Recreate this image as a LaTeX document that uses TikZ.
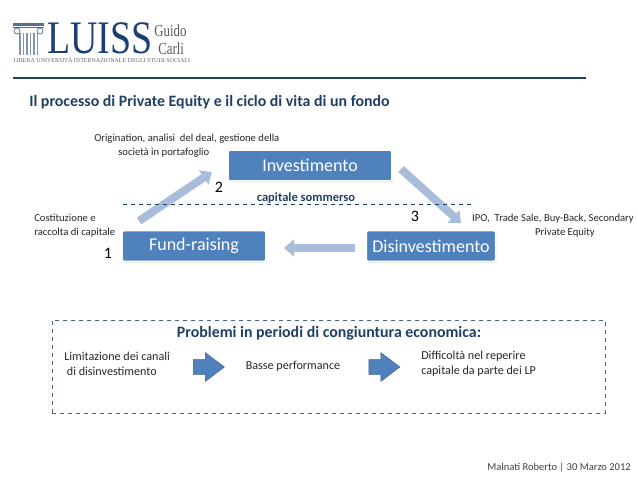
\documentclass[tikz,border=0pt]{standalone}
\usepackage{fontspec}
\setmainfont{Carlito}
\newfontfamily\logofont{Liberation Serif}
\usetikzlibrary{arrows.meta, shadows, shapes.arrows}
\definecolor{boxblue}{HTML}{4F81BD}
\definecolor{lightarrow}{HTML}{A9BCD9}
\definecolor{titleblue}{HTML}{1F3F66}
\definecolor{logoblue}{HTML}{1B3F73}
\tikzset{
  phase/.style={draw=white, line width=1.2pt, fill=boxblue, rounded corners=1.5pt, text=white,
    inner sep=0pt, font=\fontsize{13.5}{13.5}\selectfont, drop shadow={shadow xshift=0.6pt, shadow yshift=-0.9pt, fill=black!35}},
  flow/.style={line width=6pt, lightarrow, -{Triangle[length=7.5pt, width=12.5pt]}},
  note/.style={align=center, font=\fontsize{8}{10.3}\selectfont, text=black!85},
  issue/.style={align=left, font=\fontsize{9.1}{11.25}\selectfont, text=black!85},
  num/.style={font=\fontsize{12}{12}\selectfont},
  head/.style={font=\bfseries\fontsize{11.9}{13}\selectfont, text=titleblue},
  block/.style={single arrow, draw=boxblue!75!black, fill=boxblue, minimum height=23.25pt, inner xsep=0pt, inner ysep=5.25pt,
    single arrow head extend=5.25pt, single arrow tip angle=74, line width=0.4pt}
}
\begin{document}
\begin{tikzpicture}[x=0.75pt, y=-0.75pt]
    \useasboundingbox (0,0) rectangle (638,479);
    % logo
    \fill[logoblue!75] (13,23) rectangle (44,25.5);
    \fill[logoblue!75] (13,27) rectangle (44,28);
    \foreach \x in {19,22.5,26,29.5,33,36.5}
        \fill[logoblue!55] (\x,33) rectangle +(1.6,22);
    \draw[logoblue!70, line width=0.6pt] (17,31) circle (3) (40,31) circle (3);
    \node[anchor=west, inner sep=0pt, text=logoblue] (luiss) at (47,38.5)
        {\logofont\fontsize{36}{36}\selectfont\scalebox{0.79}[0.97]{LUISS}};
    \node[anchor=west, inner sep=0pt, text=black!65] (guido) at (154,31)
        {\logofont\fontsize{11.5}{11.5}\selectfont\scalebox{0.84}[1.1]{Guido}};
    \node[anchor=west, inner sep=0pt, text=black!65] (carli) at (158,49)
        {\logofont\fontsize{11.5}{11.5}\selectfont\scalebox{0.84}[1.1]{Carli}};
    \node[anchor=west, inner sep=0pt, text=black!60] (motto) at (13,60)
        {\logofont\fontsize{4.5}{4.5}\selectfont LIBERA UNIVERSITÀ INTERNAZIONALE DEGLI STUDI SOCIALI};
    \draw[line width=1.4pt, titleblue] (13,78) -- (586,78);
    %
    \node[head, anchor=west, inner sep=0pt] (title) at (29,102) {Il processo di Private Equity e il ciclo di vita di un fondo};
    %
    \node[phase, minimum width=123pt, minimum height=23pt] (inv) at (310,165.5) {Investimento};
    \node[phase, minimum width=108pt, minimum height=23pt] (fund) at (194,246) {Fund-raising};
    \node[phase, minimum width=97pt, minimum height=23pt] (dis) at (431,246) {Disinvestimento};
    %
    \coordinate (fundout) at (139,221);
    \coordinate (invin) at (212,172);
    \coordinate (invout) at (401,169);
    \coordinate (disin) at (461,223);
    \coordinate (disout) at (355,248);
    \coordinate (fundin) at (284,248);
    \path (fundout) edge[flow] (invin);
    \path (invout) edge[flow] (disin);
    \path (disout) edge[flow] (fundin);
    %
    \coordinate (sunkl) at (123,204);
    \coordinate (sunkr) at (475,204);
    \draw[dashed, titleblue, line width=0.5pt] (sunkl) -- (sunkr);
    \node[font=\bfseries\fontsize{9.4}{10}\selectfont, text=titleblue, inner sep=0pt] (sunk) at (306,198) {capitale sommerso};
    %
    \node[note, align=left, anchor=west, inner sep=0pt] (orig) at (94,145.5) {Origination, analisi~ del deal, gestione della\\\hspace*{18pt}società in portafoglio};
    \node[note, align=left, anchor=west, inner sep=0pt] (cost) at (34,225.5) {Costituzione e\\raccolta di capitale};
    \node[note] (exit) at (553,225.5) {IPO,~ Trade Sale, Buy-Back, Secondary\\\hspace*{18pt}Private Equity};
    \node[num] (n1) at (108,253) {1};
    \node[num] (n2) at (219,187) {2};
    \node[num] (n3) at (415,216) {3};
    %
    \node[draw=titleblue!80, dashed, line width=0.6pt, minimum width=414.75pt, minimum height=69.75pt, inner sep=0pt] (prob) at (328.5,366.5) {};
    \node[head, inner sep=0pt] (probt) at (329,333) {Problemi in periodi di congiuntura economica:};
    \node[issue, inner sep=0pt, anchor=west] (canali) at (64,364) {Limitazione dei canali\\\hspace*{2pt}di disinvestimento};
    \node[issue, inner sep=0pt] (basse) at (293,366) {Basse performance};
    \node[issue, inner sep=0pt, anchor=west] (lp) at (421,364) {Difficoltà nel reperire\\capitale da parte dei LP};
    \node[block] (a1) at (204,367) {};
    \node[block] (a2) at (379.5,367) {};
    %
    \node[font=\fontsize{7.9}{9}\selectfont, text=black!75, anchor=east, inner sep=0pt] (foot) at (631,468) {Malnati Roberto | 30 Marzo 2012};
\end{tikzpicture}
\end{document}
